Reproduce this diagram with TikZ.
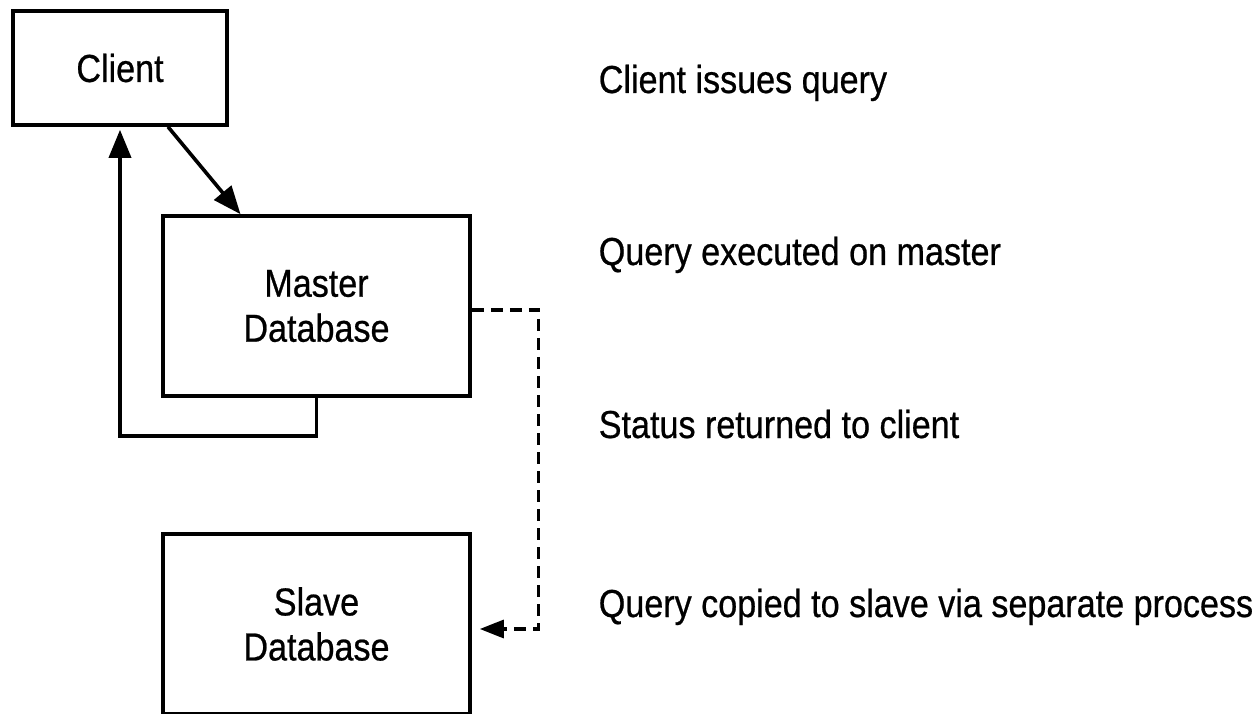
\documentclass[tikz,border=0pt]{standalone}
\usepackage{fontspec}
\setmainfont{Liberation Sans}[FakeStretch=0.875,FakeBold=0.6]
\usepackage{tikz}
\usetikzlibrary{arrows.meta}

\begin{document}
\begin{tikzpicture}[x=1pt,y=1pt,line width=3.6pt,
  font=\fontsize{39}{45}\selectfont,
  dbbox/.style={draw,minimum width=307pt,minimum height=180pt,align=center,inner sep=0pt},
  arr/.style={-{Triangle[length=28pt,width=22pt]}},
  darr/.style={line width=3.2pt,dash pattern=on 12pt off 7pt,-{Triangle[length=24pt,width=18pt]}},
  note/.style={anchor=base west,inner sep=0pt}]
\useasboundingbox (0,0) rectangle (1260,713);
\node[draw,minimum width=214pt,minimum height=114pt,inner sep=0pt] (client) at (120,645) {Client};
\node[dbbox] (master) at (316.5,407) {Master\\Database};
\node[dbbox] (slave) at (316.5,89) {Slave\\Database};
\draw[arr] ([xshift=48pt]client.south) -- ([xshift=-76pt]master.north);
\draw[arr] (master.south) -- ++(0,-38) -| ([yshift=-3pt]client.south);
\draw[darr] ([yshift=-4pt]master.east) -- ++(67,0) |- ([xshift=8pt,yshift=-5pt]slave.east);
\node[note] (issue) at (597,620) {Client issues query};
\node[note] (exec) at (597,448) {Query executed on master};
\node[note] (status) at (597,275) {Status returned to client};
\node[note] (copy) at (597,96) {Query copied to slave via separate process};
\end{tikzpicture}
\end{document}
